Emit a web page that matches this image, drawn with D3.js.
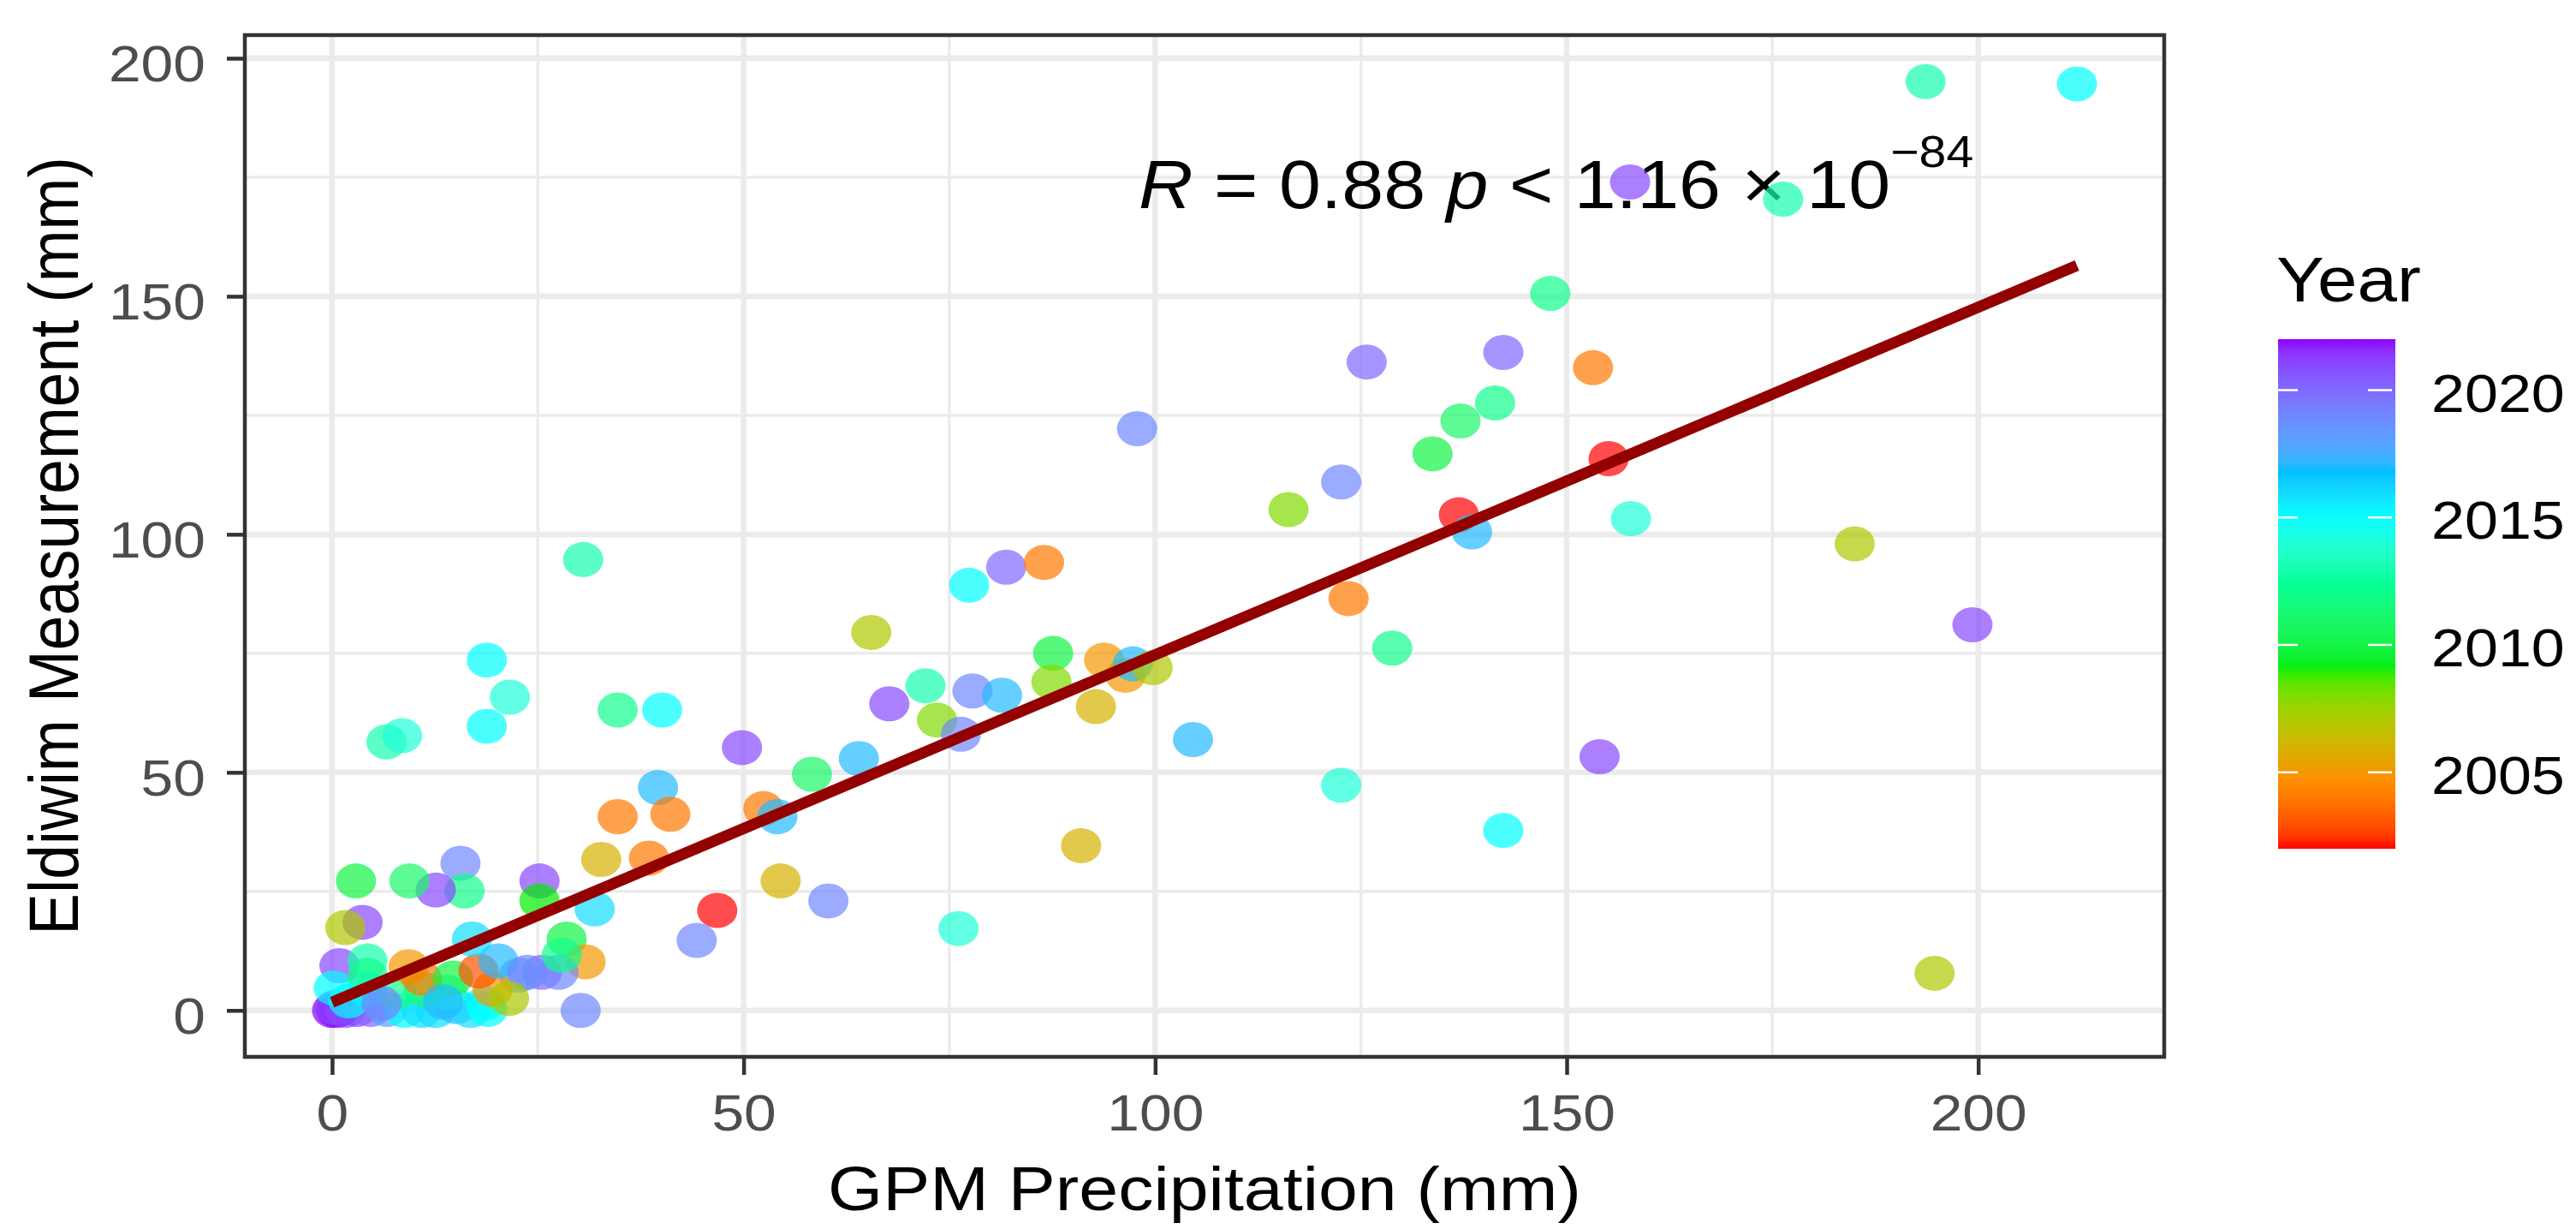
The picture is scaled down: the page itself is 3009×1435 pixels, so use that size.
<!DOCTYPE html>
<html>
<head>
<meta charset="utf-8">
<script src="https://cdn.jsdelivr.net/npm/d3@7"></script>
<style>
  body { margin: 0; background: #ffffff; }
  svg text { font-family: "Liberation Sans", Arial, sans-serif; }
</style>
</head>
<body>
<div id="chart"></div>
<script>

// one entry per sample: GPM precipitation (mm), Eldiwim gauge (mm), year
var gpm = [
    97.8, 30.5, 18.8, 21.6, 18.8, 6.6, 8.5, 34.7, 40.1, 49.8,
    39.6, 34.7, 41.1, 52.4, 54.1, 58.3, 64.0, 65.5, 67.7, 72.1,
    73.5, 76.4, 77.8, 81.4, 77.4, 81.9, 86.5, 87.6, 87.4, 93.8,
    92.8, 96.4, 97.3, 99.7, 91.0, 104.6, 54.5, 60.3, 46.8, 44.3,
    76.1, 32.7, 38.5, 31.9, 25.2, 25.2, 28.5, 30.8, 30.2, 25.5,
    27.5, 15.6, 16.1, 12.6, 9.4, 2.9, 3.7, 1.6, 0.9, 4.3,
    27.9, 22.7,
    193.6, 212.0, 157.7, 176.3, 148.0, 125.7, 142.3, 153.2, 141.3, 137.1,
    133.7, 122.6, 116.2, 155.1, 136.9, 138.5, 157.8, 185.0, 199.3, 123.5,
    128.8, 154.0, 122.6, 142.3, 194.7,
    0.0, 0.5, 1.0, 0.3, 1.6, 3.0, 4.7, 6.7, 8.8, 10.9,
    12.6, 15.1, 16.8, 18.9, 18.6, 19.5, 14.0, 11.2, 7.8, 4.3,
    0.2, 9.3, 10.9, 14.7, 17.8, 20.2, 23.7, 4.3, 2.0, 6.0,
    13.5, 21.5, 17.0
];
var eldiwim = [
    122.2, 94.7, 73.6, 65.8, 59.7, 56.4, 57.7, 63.1, 63.1, 55.2,
    46.8, 40.7, 41.2, 42.4, 40.7, 49.6, 52.9, 79.4, 64.4, 68.2,
    61.0, 58.0, 67.1, 66.2, 89.3, 93.1, 94.1, 75.0, 69.0, 73.6,
    63.8, 70.4, 72.8, 72.0, 34.6, 56.9, 27.2, 23.0, 21.0, 14.7,
    17.2, 31.7, 32.0, 21.3, 27.2, 23.0, 15.0, 10.2, 0.0, 8.0,
    8.0, 30.9, 25.1, 25.3, 27.2, 27.2, 18.5, 17.4, 9.4, 10.4,
    11.6, 7.4,
    195.1, 194.6, 174.0, 170.4, 150.6, 136.2, 138.2, 135.0, 127.6, 123.8,
    116.9, 111.0, 105.2, 115.9, 104.1, 100.5, 103.3, 98.0, 81.0, 86.5,
    76.1, 53.3, 47.3, 37.8, 7.8,
    0.0, 0.0, 0.3, 0.6, 0.0, 0.2, 0.2, 0.2, 0.0, 0.0,
    0.0, 0.8, 0.0, 0.2, 1.5, 4.4, 3.8, 4.4, 3.8, 4.4,
    4.7, 9.2, 6.8, 6.8, 8.3, 10.4, 8.0, 7.4, 2.0, 1.5,
    1.8, 2.5, 15.0
];
var year = [
    2019, 2013, 2015, 2014, 2015, 2013, 2014, 2012, 2015, 2021,
    2017, 2004, 2004, 2004, 2017, 2011, 2017, 2007, 2021, 2013,
    2008, 2019, 2019, 2017, 2015, 2020, 2004, 2010, 2008, 2005,
    2006, 2005, 2017, 2007, 2006, 2017, 2006, 2019, 2002, 2019,
    2014, 2006, 2004, 2016, 2021, 2009, 2010, 2005, 2019, 2020,
    2019, 2019, 2012, 2021, 2011, 2010, 2021, 2007, 2021, 2013,
    2012, 2018,
    2013, 2015, 2021, 2013, 2012, 2020, 2020, 2004, 2012, 2011,
    2010, 2019, 2008, 2002, 2002, 2017, 2014, 2007, 2021, 2004,
    2012, 2021, 2014, 2015, 2007,
    2022, 2022, 2022, 2021, 2021, 2021, 2020, 2018, 2015, 2016,
    2016, 2017, 2016, 2015, 2015, 2005, 2014, 2011, 2012, 2016,
    2015, 2005, 2004, 2010, 2003, 2017, 2019, 2012, 2015, 2019,
    2017, 2007, 2016
];

// linear fit and correlation test as printed on the panel
var fit = {intercept: 1.7, slope: 0.73};
var stat_r = '0.88';
var stat_p = '1.16';
var stat_exp = '\u221284';
var label_at = [98, 168.5];

var x_ticks = [0, 50, 100, 150, 200];
var y_ticks = [0, 50, 100, 150, 200];
var year_ticks = [2005, 2010, 2015, 2020];
var year_stops = [2002, 2004.6, 2009, 2012.5, 2015, 2016.8, 2022];
var year_colors = ['#ff0000', '#ff8c00', '#00ee00', '#00ff99', '#00ffff', '#00bfff', '#8f00ff'];

var W = 3009, H = 1435;
var STRETCH = 1.13;   // the picture is a little wider than tall
var margin = {top: 41, left: 286, right: 481, bottom: 201};
var width = W - margin.left - margin.right;
var height = H - margin.top - margin.bottom;

function expand(ext) {
    var pad = (ext[1] - ext[0]) * 0.05;
    return [ext[0] - pad, ext[1] + pad];
}

var sx = d3.scaleLinear().domain(expand(d3.extent(gpm))).range([0, width]);
var sy = d3.scaleLinear().domain(expand(d3.extent(eldiwim))).range([height, 0]);
var color = d3.scaleLinear()
    .domain(year_stops)
    .range(year_colors)
    .interpolate(d3.interpolateLab);

var svg = d3.select('#chart').append('svg')
    .attr('width', W)
    .attr('height', H);
svg.append('rect').attr('width', W).attr('height', H).attr('fill', '#ffffff');

var g = svg.append('g')
    .attr('transform', 'translate(' + margin.left + ',' + margin.top + ')');

// grid: minor halfway between majors
function minor(ticks) {
    var out = [];
    for (var i = 1; i < ticks.length; i++) out.push((ticks[i - 1] + ticks[i]) / 2);
    return out;
}
var grid = g.append('g').attr('class', 'grid');
grid.selectAll('.vmin').data(minor(x_ticks)).enter().append('line')
    .attr('x1', sx).attr('x2', sx).attr('y1', 0).attr('y2', height)
    .attr('stroke', '#ebebeb').attr('stroke-width', 3.5);
grid.selectAll('.hmin').data(minor(y_ticks)).enter().append('line')
    .attr('y1', sy).attr('y2', sy).attr('x1', 0).attr('x2', width)
    .attr('stroke', '#ebebeb').attr('stroke-width', 3.5);
grid.selectAll('.vmaj').data(x_ticks).enter().append('line')
    .attr('x1', sx).attr('x2', sx).attr('y1', 0).attr('y2', height)
    .attr('stroke', '#ebebeb').attr('stroke-width', 6.5);
grid.selectAll('.hmaj').data(y_ticks).enter().append('line')
    .attr('y1', sy).attr('y2', sy).attr('x1', 0).attr('x2', width)
    .attr('stroke', '#ebebeb').attr('stroke-width', 6.5);

// correlation label (drawn under the points, as in the original)
var lab = g.append('text')
    .attr('transform', 'translate(' + sx(label_at[0]) + ',' + sy(label_at[1]) + ') scale(1.1,1)')
    .attr('font-size', 80)
    .attr('fill', '#000000');
lab.append('tspan').attr('font-style', 'italic').text('R');
lab.append('tspan').text(' = ' + stat_r + ' ');
lab.append('tspan').attr('font-style', 'italic').text('p');
lab.append('tspan').text(' < ' + stat_p + ' \u00d7 10');
lab.append('tspan').attr('dy', -48).attr('font-size', 52).text(stat_exp);

// points
var pts = d3.range(gpm.length);
g.selectAll('.pt').data(pts).enter().append('ellipse')
    .attr('class', 'pt')
    .attr('cx', function(i) { return sx(gpm[i]); })
    .attr('cy', function(i) { return sy(eldiwim[i]); })
    .attr('rx', 23.5)
    .attr('ry', 20.5)
    .attr('fill', function(i) { return color(year[i]); })
    .attr('fill-opacity', 0.7);

// regression line over the range of x
var xr = d3.extent(gpm);
g.append('path')
    .datum(xr)
    .attr('d', d3.line()
        .x(function(d) { return sx(d); })
        .y(function(d) { return sy(fit.intercept + fit.slope * d); }))
    .attr('fill', 'none')
    .attr('stroke', '#930000')
    .attr('stroke-width', 13);

// panel border
g.append('rect')
    .attr('width', width).attr('height', height)
    .attr('fill', 'none').attr('stroke', '#333333').attr('stroke-width', 4.5);

// axes
var gx = g.append('g')
    .attr('transform', 'translate(0,' + height + ')')
    .call(d3.axisBottom(sx).tickValues(x_ticks).tickSize(21).tickSizeOuter(0));
gx.select('.domain').remove();
gx.selectAll('.tick line').attr('stroke', '#333333').attr('stroke-width', 4.5);
gx.selectAll('.tick text')
    .attr('y', 86).attr('dy', null)
    .attr('fill', '#4d4d4d').attr('font-size', 60)
    .attr('transform', 'scale(' + STRETCH + ',1)');

var gy = g.append('g')
    .call(d3.axisLeft(sy).tickValues(y_ticks).tickSize(21).tickSizeOuter(0));
gy.select('.domain').remove();
gy.selectAll('.tick line').attr('stroke', '#333333').attr('stroke-width', 4.5);
gy.selectAll('.tick text')
    .attr('x', -46 / STRETCH).attr('dy', 27)
    .attr('fill', '#4d4d4d').attr('font-size', 60)
    .attr('transform', 'scale(' + STRETCH + ',1)');

// axis titles
svg.append('text')
    .attr('transform', 'translate(' + (margin.left + width / 2) + ',1413) scale(' + STRETCH + ',1)')
    .attr('text-anchor', 'middle')
    .attr('font-size', 73)
    .attr('fill', '#000000')
    .text('GPM Precipitation (mm)');
svg.append('text')
    .attr('transform', 'translate(91,' + (margin.top + height / 2) + ') scale(' + STRETCH + ',1) rotate(-90)')
    .attr('text-anchor', 'middle')
    .attr('font-size', 73)
    .attr('fill', '#000000')
    .text('Eldiwim Measurement (mm)');

// colour bar legend
var bar = {x: 2661, top: 396, bottom: 991, w: 137};
var sl = d3.scaleLinear().domain(d3.extent(year)).range([bar.bottom, bar.top]);

var grad = svg.append('defs').append('linearGradient')
    .attr('id', 'yeargrad')
    .attr('x1', 0).attr('y1', 1).attr('x2', 0).attr('y2', 0);
var yd = sl.domain();
grad.selectAll('stop').data(d3.range(0, 1.0001, 0.02)).enter().append('stop')
    .attr('offset', function(t) { return t; })
    .attr('stop-color', function(t) { return color(yd[0] + t * (yd[1] - yd[0])); });

svg.append('text')
    .attr('transform', 'translate(2659,352) scale(' + STRETCH + ',1)')
    .attr('font-size', 74)
    .attr('fill', '#000000')
    .text('Year');

svg.append('rect')
    .attr('x', bar.x).attr('y', bar.top)
    .attr('width', bar.w).attr('height', bar.bottom - bar.top)
    .attr('fill', 'url(#yeargrad)');

var lt = svg.append('g').selectAll('g').data(year_ticks).enter().append('g')
    .attr('transform', function(d) { return 'translate(0,' + sl(d) + ')'; });
lt.append('line')
    .attr('x1', bar.x).attr('x2', bar.x + 23)
    .attr('stroke', '#ffffff').attr('stroke-width', 2.5);
lt.append('line')
    .attr('x1', bar.x + bar.w - 32).attr('x2', bar.x + bar.w - 4)
    .attr('stroke', '#ffffff').attr('stroke-width', 2.5);
lt.append('text')
    .attr('transform', 'translate(2840,25) scale(' + STRETCH + ',1)')
    .attr('font-size', 62)
    .attr('fill', '#000000')
    .text(function(d) { return d; });

</script>
</body>
</html>
